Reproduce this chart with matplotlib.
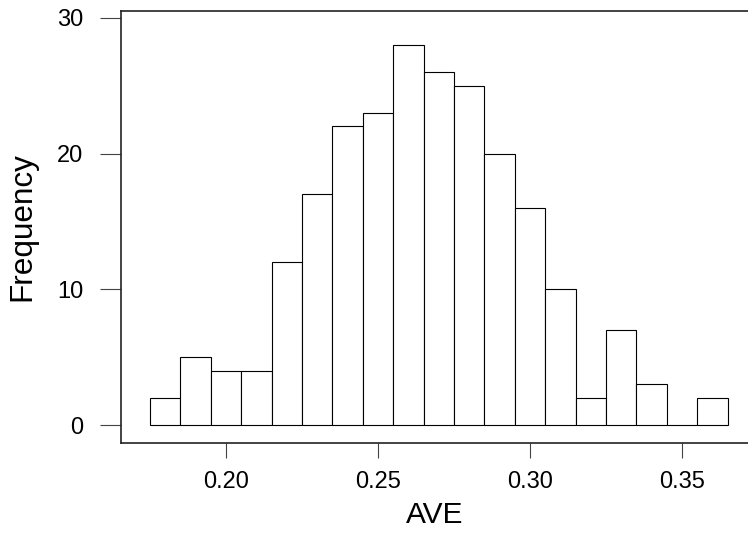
import matplotlib
matplotlib.use("Agg")
import matplotlib.pyplot as plt

plt.rcParams['font.family'] = ['Liberation Sans', 'DejaVu Sans']

# histogram of AVE, bin width 0.01
bin_centers = [0.18, 0.19, 0.20, 0.21, 0.22, 0.23, 0.24, 0.25, 0.26, 0.27,
               0.28, 0.29, 0.30, 0.31, 0.32, 0.33, 0.34, 0.35, 0.36]
counts = [2, 5, 4, 4, 12, 17, 22, 23, 28, 26,
          25, 20, 16, 10, 2, 7, 3, 0, 2]
bin_width = 0.01

x_ticks = [0.20, 0.25, 0.30, 0.35]
x_ticklabels = ["0.20", "0.25", "0.30", "0.35"]
y_ticks = [0, 10, 20, 30]

fig = plt.figure(figsize=(7.48, 5.33), dpi=100)
ax = fig.add_axes([0.1618, 0.1689, 0.8382, 0.8105])

ax.bar(bin_centers, counts, width=bin_width, color='white',
       edgecolor='black', linewidth=0.8)

ax.set_xlim(0.1655, 0.3717)
ax.set_ylim(-1.32, 30.5)

ax.set_xticks(x_ticks)
ax.set_xticklabels(x_ticklabels)
ax.set_yticks(y_ticks)

ax.spines['right'].set_visible(False)
for s in ['left', 'top', 'bottom']:
    ax.spines[s].set_linewidth(1.2)
    ax.spines[s].set_color('#222222')

ax.tick_params(axis='x', length=11, width=0.8, color='#444444',
               labelsize=17, pad=9)
ax.tick_params(axis='y', length=15, width=0.8, color='#444444',
               labelsize=17, pad=12)

ax.set_xlabel("AVE", fontsize=21.5, labelpad=6)
ax.set_ylabel("Frequency", fontsize=22.7, labelpad=14)

fig.savefig("out.png", dpi=100)
